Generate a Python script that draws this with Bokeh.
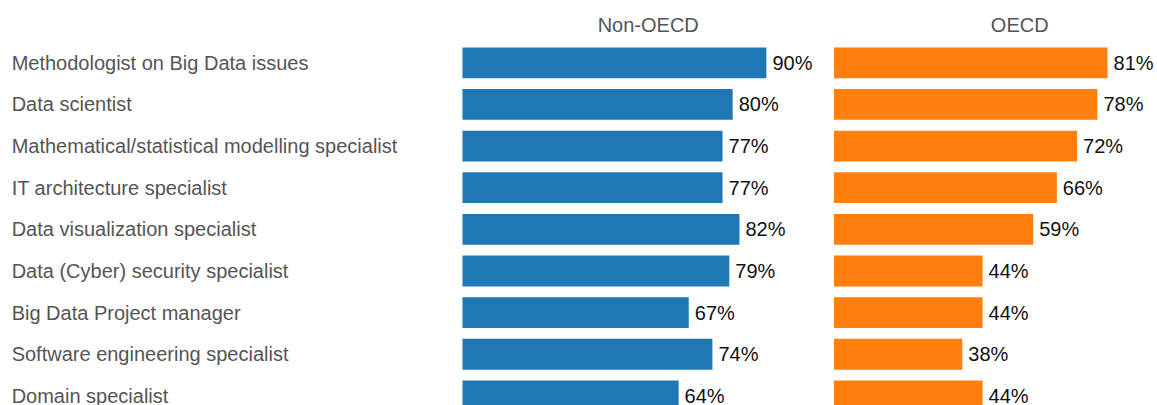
from bokeh.plotting import figure
from bokeh.models import ColumnDataSource, Range1d
from bokeh.core.properties import value
from bokeh.embed import file_html
from bokeh.resources import INLINE

categories = [
    "Methodologist on Big Data issues",
    "Data scientist",
    "Mathematical/statistical modelling specialist",
    "IT architecture specialist",
    "Data visualization specialist",
    "Data (Cyber) security specialist",
    "Big Data Project manager",
    "Software engineering specialist",
    "Domain specialist",
]
non_oecd = [90, 80, 77, 77, 82, 79, 67, 74, 64]
oecd = [81, 78, 72, 66, 59, 44, 44, 38, 44]
panels = ["Non-OECD", "OECD"]

PANEL = 110  # width of each facet in percent units
FONT = value("Liberation Sans")
BLUE = "#1f77b4"
ORANGE = "#ff7f0e"

rows = list(range(len(categories)))

src_n = ColumnDataSource(dict(
    y=rows, left=[0] * len(rows), right=non_oecd,
    lab=[f"{v}%" for v in non_oecd],
))
src_o = ColumnDataSource(dict(
    y=rows, left=[PANEL] * len(rows), right=[PANEL + v for v in oecd],
    lab=[f"{v}%" for v in oecd],
))
src_c = ColumnDataSource(dict(y=rows, cat=categories, x=[-133.5] * len(rows)))
src_h = ColumnDataSource(dict(x=[PANEL / 2, PANEL + PANEL / 2], y=[-0.9, -0.9], t=panels))

p = figure(
    width=1157, height=405,
    x_range=Range1d(-136.8, 205.8),
    y_range=Range1d(8.23, -1.496),
    output_backend="svg", toolbar_location=None,
    min_border=0,
)
p.axis.visible = False
p.grid.visible = False
p.outline_line_color = None
p.background_fill_color = "white"
p.border_fill_color = "white"

p.hbar(y="y", left="left", right="right", height=0.74, source=src_n,
       fill_color=BLUE, line_color=None)
p.hbar(y="y", left="left", right="right", height=0.74, source=src_o,
       fill_color=ORANGE, line_color=None)

for src in (src_n, src_o):
    p.text(x="right", y="y", text="lab", source=src, x_offset=6,
           text_align="left", text_baseline="middle",
           text_font=FONT, text_font_size="20px", text_color="#111111")

p.text(x="x", y="y", text="cat", source=src_c, text_align="left",
       text_baseline="middle", text_font=FONT, text_font_size="20px",
       text_color="#555555")

p.text(x="x", y="y", text="t", source=src_h, text_align="center",
       text_baseline="middle", text_font=FONT, text_font_size="20px",
       text_color="#555555")

open("out.html", "w").write(file_html(p, INLINE))
